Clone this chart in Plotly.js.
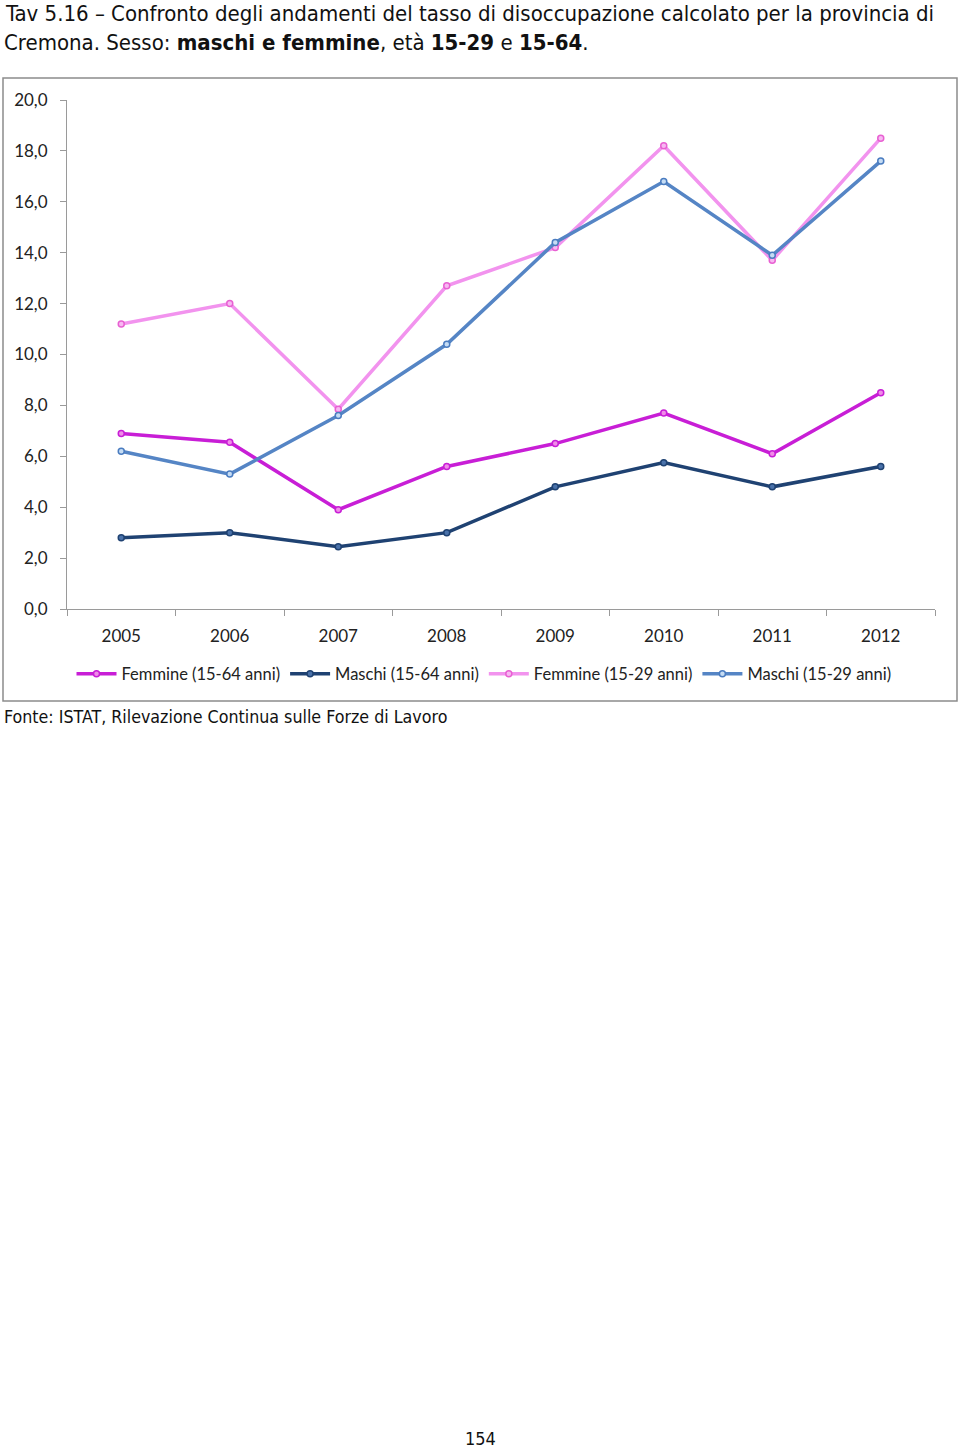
<!DOCTYPE html>
<html>
<head>
<meta charset="utf-8">
<script src="https://cdn.plot.ly/plotly-3.0.1.min.js"></script>
<style>
html,body{margin:0;padding:0;background:#fff;}
#chart{width:960px;height:1448px;}
</style>
</head>
<body>
<div id="chart"></div>
<script>
const years = ['2005','2006','2007','2008','2009','2010','2011','2012'];
const femmine1564 = [6.9, 6.55, 3.9, 5.6, 6.5, 7.7, 6.1, 8.5];
const maschi1564 = [2.8, 3.0, 2.45, 3.0, 4.8, 5.75, 4.8, 5.6];
const femmine1529 = [11.2, 12.0, 7.85, 12.7, 14.2, 18.2, 13.7, 18.5];
const maschi1529 = [6.2, 5.3, 7.6, 10.4, 14.4, 16.8, 13.9, 17.6];
const seriesNames = ['Femmine (15-64 anni)', 'Maschi (15-64 anni)', 'Femmine (15-29 anni)', 'Maschi (15-29 anni)'];
const yTicks = [0,2,4,6,8,10,12,14,16,18,20];

// layout helpers (pixel -> paper)
const L = 67, R = 935, T = 100, B = 609;
const px = p => (p - L) / (R - L);
const py = p => (B - p) / (B - T);

function trace(y, name, lineColor, mFill, mLine) {
  return {
    x: years, y: y, name: name, type: 'scatter', mode: 'lines+markers',
    line: {color: lineColor, width: 3.5},
    marker: {size: 6, color: mFill, line: {color: mLine, width: 1.5}}
  };
}

const data = [
  trace(femmine1564, seriesNames[0], '#C81ED6', '#F08CE8', '#C81ED6'),
  trace(maschi1564, seriesNames[1], '#1F4272', '#4A72AA', '#1F4272'),
  trace(femmine1529, seriesNames[2], '#F293EE', '#F7B8F2', '#E860D2'),
  trace(maschi1529, seriesNames[3], '#5585C5', '#C5DCF4', '#4A7CC0')
];

const chartFont = 'Lato, "Open Sans", sans-serif';
const textFont = '"DejaVu Sans Condensed", "DejaVu Sans", sans-serif';

const layout = {
  width: 960, height: 1448,
  margin: {l: L, r: 960 - R, t: T, b: 1448 - B, pad: 0},
  paper_bgcolor: '#fff', plot_bgcolor: '#fff',
  separators: ', ',
  showlegend: true,
  legend: {
    orientation: 'h', x: px(484), xanchor: 'center', y: py(674), yanchor: 'middle',
    bgcolor: 'rgba(0,0,0,0)',
    font: {family: chartFont, size: 16.5, color: '#222'},
    itemwidth: 40, traceorder: 'normal'
  },
  xaxis: {
    type: 'category', range: [-0.5, 7.5],
    showline: true, linecolor: '#9a9a9a', linewidth: 1,
    ticks: 'outside', tickson: 'boundaries', ticklen: 6, tickcolor: '#9a9a9a',
    ticklabelstandoff: 12,
    showgrid: false, zeroline: false,
    tickfont: {family: chartFont, size: 17, color: '#222'}
  },
  yaxis: {
    range: [0, 20], tickvals: yTicks, tickformat: '.1f',
    showline: true, linecolor: '#9a9a9a', linewidth: 1,
    ticks: 'outside', ticklen: 6, tickcolor: '#9a9a9a',
    ticklabelstandoff: 9,
    showgrid: false, zeroline: false,
    tickfont: {family: chartFont, size: 17, color: '#222'}
  },
  shapes: [
    {type: 'rect', xref: 'paper', yref: 'paper',
     x0: px(3), x1: px(957), y0: py(701), y1: py(78),
     line: {color: '#8c8c8c', width: 1.5}, fillcolor: 'rgba(0,0,0,0)', layer: 'below'}
  ],
  annotations: [
    {text: 'Tav 5.16 – Confronto degli andamenti del tasso di disoccupazione calcolato per la provincia di',
     xref: 'paper', yref: 'paper', x: px(3), y: py(13), xanchor: 'left', yanchor: 'middle',
     showarrow: false, font: {family: textFont, size: 22, color: '#111'}},
    {text: 'Cremona. Sesso: <b>maschi e femmine</b>, età <b>15-29</b> e <b>15-64</b>.',
     xref: 'paper', yref: 'paper', x: px(2), y: py(42), xanchor: 'left', yanchor: 'middle',
     showarrow: false, font: {family: textFont, size: 22, color: '#111'}},
    {text: 'Fonte: ISTAT, Rilevazione Continua sulle Forze di Lavoro',
     xref: 'paper', yref: 'paper', x: px(2), y: py(717), xanchor: 'left', yanchor: 'middle',
     showarrow: false, font: {family: textFont, size: 17.7, color: '#111'}},
    {text: '154',
     xref: 'paper', yref: 'paper', x: px(480), y: py(1438), xanchor: 'center', yanchor: 'middle',
     showarrow: false, font: {family: textFont, size: 18, color: '#111'}}
  ]
};

Plotly.newPlot('chart', data, layout, {displayModeBar: false, staticPlot: true});
</script>
</body>
</html>
